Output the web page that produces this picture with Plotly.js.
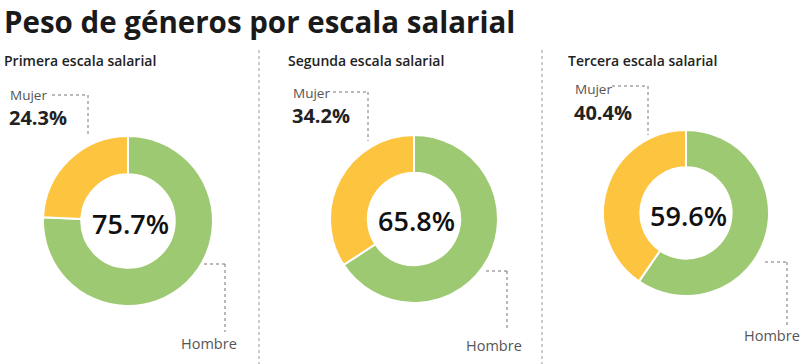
<!DOCTYPE html>
<html>
<head>
<meta charset="utf-8">
<script src="https://cdn.plot.ly/plotly-3.0.1.min.js"></script>
<style>html,body{margin:0;padding:0;background:#fff;}#chart{width:800px;height:364px;}</style>
</head>
<body>
<div id="chart"></div>
<script>
// ---- data ----
const chartTitle = 'Peso de géneros por escala salarial';
const scales = ['Primera escala salarial', 'Segunda escala salarial', 'Tercera escala salarial'];
const genders = ['Hombre', 'Mujer'];
const hombre = [75.7, 65.8, 59.6];
const mujer = [24.3, 34.2, 40.4];

// ---- layout helpers (pixel -> paper) ----
const W = 800, H = 364;
const px = x => x / W;
const py = y => 1 - y / H;

const FONT = '"Open Sans", sans-serif';
const GREEN = '#9dc972';
const YELLOW = '#fdc43f';

// panel geometry (pixels)
const panels = [
  {cx: 128, cy: 221, r: 85, sub: 2,   mx: 10,  my: 95, mline: [52, 88, 95, 135],  hline: [204, 225, 264, 332], hx: 209, hy: 343},
  {cx: 414, cy: 219, r: 84, sub: 286, mx: 293, my: 93, mline: [333, 368, 92, 141], hline: [486, 507, 271, 330], hx: 494, hy: 345},
  {cx: 686, cy: 213, r: 83, sub: 566, mx: 575, my: 89, mline: [612, 648, 86, 135], hline: [765, 787, 262, 325], hx: 772, hy: 335}
];

const traces = [];
const annotations = [];
const shapes = [];

panels.forEach((p, i) => {
  traces.push({
    type: 'pie',
    labels: genders,
    values: [hombre[i], mujer[i]],
    sort: false,
    direction: 'clockwise',
    rotation: 0,
    hole: 0.55,
    textinfo: 'none',
    hoverinfo: 'label+percent',
    marker: {colors: [GREEN, YELLOW], line: {color: '#ffffff', width: 2}},
    domain: {x: [px(p.cx - p.r), px(p.cx + p.r)], y: [py(p.cy + p.r), py(p.cy - p.r)]},
    showlegend: false
  });
  // subtitle
  annotations.push({xref: 'paper', yref: 'paper', x: px(p.sub), y: py(61), xanchor: 'left', yanchor: 'middle',
    text: scales[i], showarrow: false, font: {family: FONT, size: 14, color: '#222', weight: 600}});
  // Mujer label
  annotations.push({xref: 'paper', yref: 'paper', x: px(p.mx - 2), y: py(p.my), xanchor: 'left', yanchor: 'middle',
    text: genders[1], showarrow: false, font: {family: FONT, size: 13.5, color: '#555'}});
  annotations.push({xref: 'paper', yref: 'paper', x: px(p.mx - 3), y: py(p.my + 23), xanchor: 'left', yanchor: 'middle',
    text: mujer[i].toFixed(1) + '%', showarrow: false, font: {family: FONT, size: 20, color: '#222', weight: 700}});
  // center value
  annotations.push({xref: 'paper', yref: 'paper', x: px(p.cx + 2), y: py(p.cy + 2), xanchor: 'center', yanchor: 'middle',
    text: hombre[i].toFixed(1) + '%', showarrow: false, font: {family: FONT, size: 27, color: '#111', weight: 600}});
  // Hombre label
  annotations.push({xref: 'paper', yref: 'paper', x: px(p.hx), y: py(p.hy), xanchor: 'center', yanchor: 'middle',
    text: genders[0], showarrow: false, font: {family: FONT, size: 14.5, color: '#555'}});
  // leader lines
  const dl = {color: '#777', width: 1, dash: 'dot'};
  const m = p.mline, h = p.hline;
  shapes.push({type: 'line', xref: 'paper', yref: 'paper', x0: px(m[0]), x1: px(m[1]), y0: py(m[2]), y1: py(m[2]), line: dl});
  shapes.push({type: 'line', xref: 'paper', yref: 'paper', x0: px(m[1]), x1: px(m[1]), y0: py(m[2]), y1: py(m[3]), line: dl});
  shapes.push({type: 'line', xref: 'paper', yref: 'paper', x0: px(h[0]), x1: px(h[1]), y0: py(h[2]), y1: py(h[2]), line: dl});
  shapes.push({type: 'line', xref: 'paper', yref: 'paper', x0: px(h[1]), x1: px(h[1]), y0: py(h[2]), y1: py(h[3]), line: dl});
});

// panel separators
[259, 542].forEach(x => {
  shapes.push({type: 'line', xref: 'paper', yref: 'paper', x0: px(x), x1: px(x), y0: py(50), y1: py(364),
    line: {color: '#999', width: 1, dash: 'dot'}});
});

// chart title as a top-anchored annotation
annotations.push({xref: 'paper', yref: 'paper', x: px(3), y: 1, xanchor: 'left', yanchor: 'top', borderpad: 0,
  text: chartTitle, showarrow: false, font: {family: FONT, size: 29.5, color: '#1a1a1a', weight: 700}});

const layout = {
  width: W, height: H,
  margin: {l: 0, r: 0, t: 0, b: 0},
  paper_bgcolor: '#ffffff',
  plot_bgcolor: '#ffffff',
  annotations: annotations,
  shapes: shapes
};

Plotly.newPlot('chart', traces, layout, {displayModeBar: false, staticPlot: true});
</script>
</body>
</html>
